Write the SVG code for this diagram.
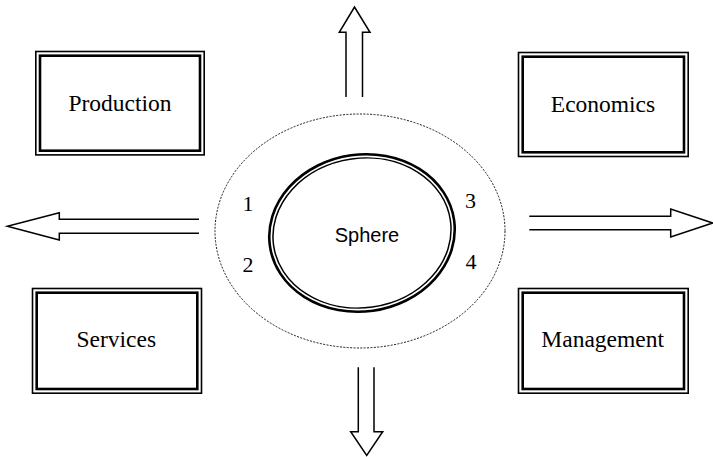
<svg xmlns="http://www.w3.org/2000/svg" width="713" height="457" viewBox="0 0 713 457">
  <style>
    .frame-outer { fill: none; stroke: #000; stroke-width: 1.6; }
    .frame-inner { fill: none; stroke: #000; stroke-width: 2.6; }
    .label { font-family: "Liberation Serif", "Times New Roman", serif; font-size: 23.5px; fill: #000; text-anchor: middle; }
    .num { font-family: "Liberation Serif", "Times New Roman", serif; font-size: 22px; fill: #000; text-anchor: middle; }
    .sans { font-family: "Liberation Sans", Arial, sans-serif; font-size: 20px; fill: #000; text-anchor: middle; }
    .arrow { fill: #fff; stroke: #000; stroke-width: 1.5; stroke-linejoin: miter; }
    .halo { fill: none; stroke: #000; stroke-width: 0.9; stroke-dasharray: 2 1.4; }
  </style>
  <rect width="713" height="457" fill="#fff"/>

  <!-- connectors: hollow block arrows leaving the centre -->
  <g id="connectors">
    <polyline class="arrow" points="346,97 346,32.3 339.3,32.3 354.5,7 370,32.3 362.5,32.3 362.5,97"/>
    <polyline class="arrow" points="199,219.3 59.3,219.3 59.3,212.7 7.3,226.3 59.3,240 59.3,233.3 199,233.3"/>
    <polyline class="arrow" points="529.3,216.3 670.7,216.3 670.7,209 712.7,223 670.7,237 670.7,229.7 529.3,229.7"/>
    <polyline class="arrow" points="358.3,367.3 358.3,431.7 350.7,431.7 366.7,455.5 382.7,431.7 374,431.7 374,367.3"/>
  </g>

  <!-- corner boxes with thin/thick double frame -->
  <g id="production">
    <rect class="frame-outer" x="35.8" y="51.5" width="168.4" height="103.4"/>
    <rect class="frame-inner" x="40" y="55.7" width="160" height="95"/>
    <text class="label" x="120" y="111">Production</text>
  </g>
  <g id="economics">
    <rect class="frame-outer" x="518.5" y="52.5" width="169.7" height="104"/>
    <rect class="frame-inner" x="522.7" y="56.7" width="161.3" height="95.6"/>
    <text class="label" x="603" y="111.7">Economics</text>
  </g>
  <g id="services">
    <rect class="frame-outer" x="32.5" y="288.5" width="169" height="104.7"/>
    <rect class="frame-inner" x="36.7" y="292.7" width="160.6" height="96.3"/>
    <text class="label" x="116.3" y="347.3">Services</text>
  </g>
  <g id="management">
    <rect class="frame-outer" x="518.5" y="288.5" width="169.7" height="104.7"/>
    <rect class="frame-inner" x="522.7" y="292.7" width="161.3" height="96.3"/>
    <text class="label" x="602.7" y="347.3">Management</text>
  </g>

  <!-- central sphere with dotted halo and numbered sides -->
  <g id="sphere">
    <ellipse class="halo" cx="360" cy="231" rx="145" ry="117"/>
    <g transform="rotate(-8 362 233)">
      <ellipse cx="362" cy="233" rx="93" ry="78.5" fill="none" stroke="#000" stroke-width="2.6"/>
      <ellipse cx="362" cy="233" rx="89.3" ry="74.8" fill="none" stroke="#000" stroke-width="1.5"/>
    </g>
    <text class="sans" x="367" y="242">Sphere</text>
    <text class="num" x="248" y="210.7">1</text>
    <text class="num" x="248" y="271.7">2</text>
    <text class="num" x="470.5" y="208.3">3</text>
    <text class="num" x="471" y="269.3">4</text>
  </g>
</svg>
